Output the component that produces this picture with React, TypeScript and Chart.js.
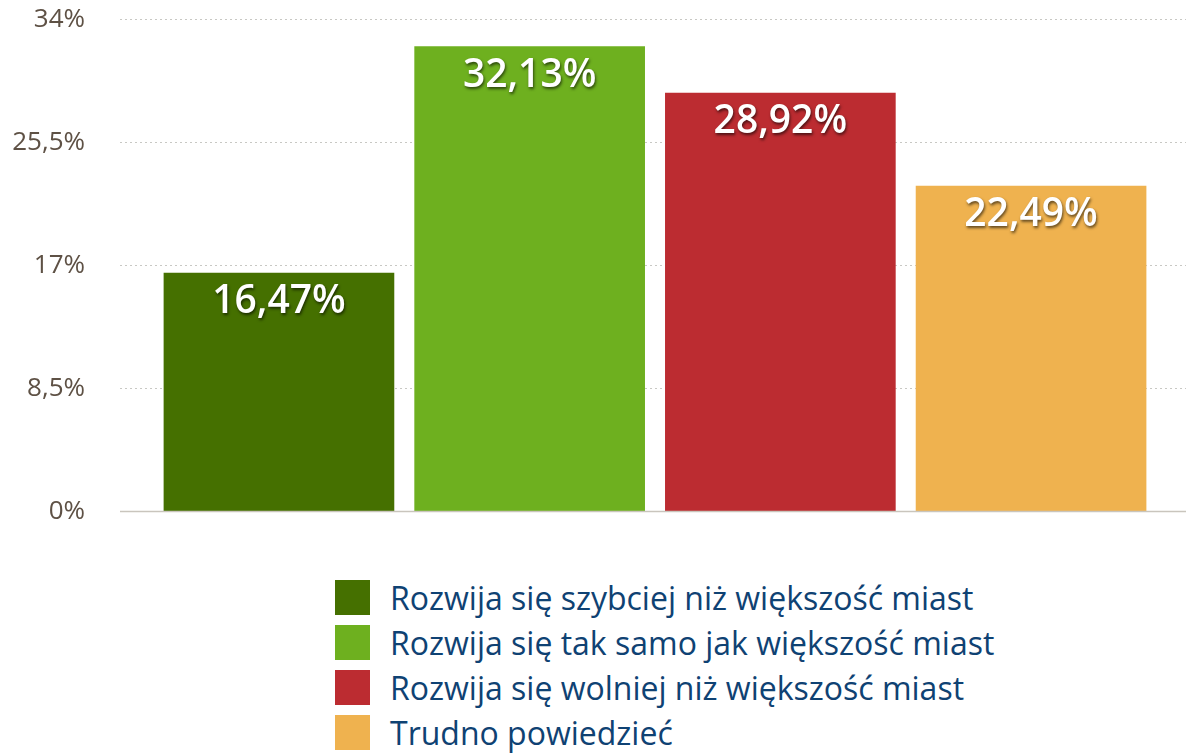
import React, { useEffect, useRef } from "react";
import { Chart, registerables } from "chart.js";

Chart.register(...registerables);

const categories = [
  "Rozwija się szybciej niż większość miast",
  "Rozwija się tak samo jak większość miast",
  "Rozwija się wolniej niż większość miast",
  "Trudno powiedzieć",
];
const values = [16.47, 32.13, 28.92, 22.49];
const colors = ["#457000", "#6eb01f", "#bc2c31", "#efb24f"];
const yTicks = [0, 8.5, 17, 25.5, 34];

const fmt = (v: number, digits?: number) =>
  (digits !== undefined ? v.toFixed(digits) : String(v)).replace(".", ",") + "%";

const barLabelPlugin = {
  id: "barLabels",
  afterDatasetsDraw(chart: any) {
    const ctx = chart.ctx;
    const meta = chart.getDatasetMeta(0);
    ctx.save();
    ctx.font = "600 39px 'Open Sans'";
    ctx.fillStyle = "#ffffff";
    ctx.textAlign = "center";
    ctx.textBaseline = "middle";
    ctx.shadowColor = "rgba(0,0,0,0.6)";
    ctx.shadowOffsetX = 1;
    ctx.shadowOffsetY = 2;
    ctx.shadowBlur = 3;
    meta.data.forEach((el: any, i: number) => {
      ctx.fillText(fmt(values[i], 2), el.x, el.y + 29);
    });
    ctx.restore();
  },
};

const zeroLinePlugin = {
  id: "zeroLine",
  afterDatasetsDraw(chart: any) {
    const ctx = chart.ctx;
    const y = chart.scales.y.getPixelForValue(0);
    const { left, right } = chart.chartArea;
    ctx.save();
    ctx.strokeStyle = "#c9c5bd";
    ctx.lineWidth = 1.5;
    ctx.beginPath();
    ctx.moveTo(left, y);
    ctx.lineTo(right, y);
    ctx.stroke();
    ctx.restore();
  },
};

export default function App() {
  const ref = useRef<HTMLCanvasElement | null>(null);

  useEffect(() => {
    if (!ref.current) return;
    const chart = new Chart(ref.current, {
      type: "bar",
      data: {
        labels: categories,
        datasets: [
          {
            data: values.map((v, i) => ({ x: i, y: v })),
            backgroundColor: colors,
            borderWidth: 0,
            barThickness: 230,
          },
        ],
      },
      options: {
        animation: false,
        responsive: false,
        maintainAspectRatio: false,
        devicePixelRatio: 1,
        layout: { padding: 0 },
        plugins: {
          legend: { display: false },
          tooltip: { enabled: false },
        },
        scales: {
          x: {
            type: "linear",
            display: false,
            offset: false,
            grid: { offset: false },
            min: -0.634,
            max: 3.618,
          },
          y: {
            min: 0,
            max: 34,
            afterBuildTicks: (scale: any) => {
              scale.ticks = yTicks.map((v) => ({ value: v }));
            },
            afterFit: (scale: any) => {
              scale.width = 120;
            },
            border: { display: false, dash: [2, 3] },
            grid: {
              color: (c: any) => (c.tick && c.tick.value === 0 ? "rgba(0,0,0,0)" : "#c8c8c4"),
              lineWidth: 1,
              drawTicks: false,
              tickLength: 0,
            },
            ticks: {
              padding: 35,
              color: "#5e5145",
              font: { family: "'Open Sans'", size: 26 },
              callback: (v: any) => fmt(Number(v)),
            },
          },
        },
      } as any,
      plugins: [barLabelPlugin, zeroLinePlugin],
    });
    return () => chart.destroy();
  }, []);

  return (
    <div
      style={{
        position: "absolute",
        left: 0,
        top: 0,
        width: 1186,
        height: 756,
        background: "#ffffff",
        overflow: "hidden",
      }}
    >
      <div style={{ position: "absolute", left: 0, top: -31, width: 1186, height: 593 }}>
        <canvas ref={ref} width={1186} height={593} style={{ width: 1186, height: 593, display: "block" }} />
      </div>
      <div style={{ position: "absolute", left: 335, top: 580 }}>
        {categories.map((c, i) => (
          <div
            key={c}
            style={{
              display: "flex",
              alignItems: "center",
              height: 35,
              marginBottom: 10,
            }}
          >
            <div style={{ width: 35, height: 35, background: colors[i], flex: "none" }} />
            <span
              style={{
                marginLeft: 20,
                fontFamily: "'Open Sans'",
                fontSize: 32,
                color: "#0f4273",
                whiteSpace: "nowrap",
                lineHeight: "35px",
              }}
            >
              {c}
            </span>
          </div>
        ))}
      </div>
    </div>
  );
}
